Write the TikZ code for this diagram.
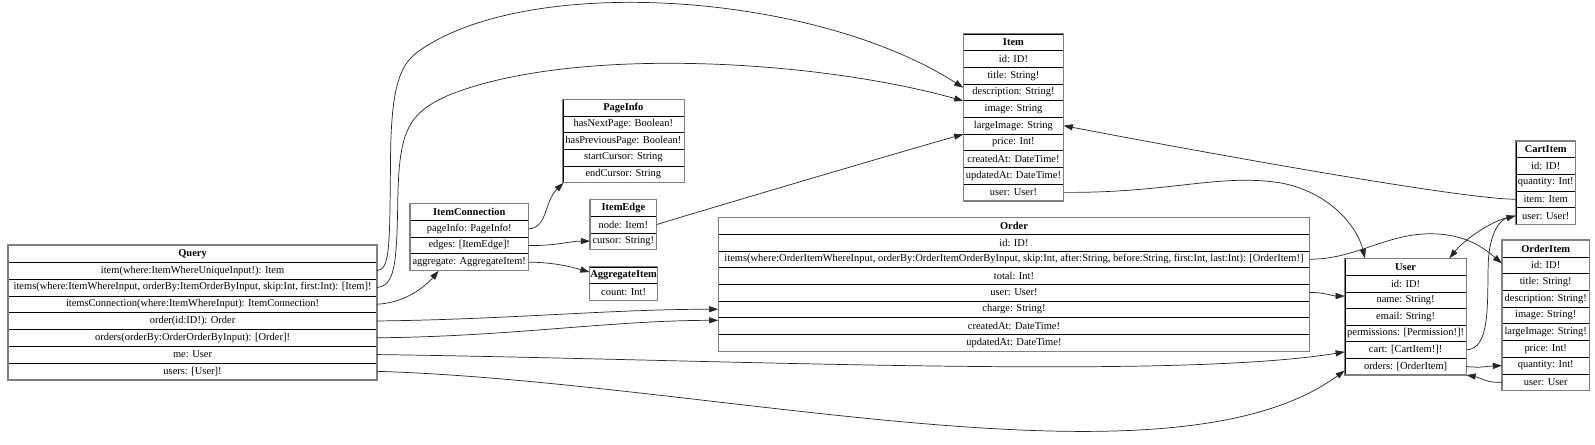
\documentclass[tikz,border=0pt]{standalone}
\usepackage{fontspec}
\setmainfont{Liberation Serif}
\usetikzlibrary{arrows.meta,fit,calc}
\newcommand\tfont{\fontsize{10.3}{11}\selectfont}
\tikzset{
  cell/.style={draw=black, line width=0.6pt, inner sep=0pt, anchor=north west, font=\tfont},
  frame/.style={draw=black!50, line width=1.3pt, inner sep=0pt},
  edge/.style={draw=black!85, line width=0.7pt, -{Triangle[length=9pt,width=6pt]}},
}
% #1 name, #2 x, #3 y, #4 width, #5 row height, #6 last row index, #7 header, #8 rows
\newcommand\mktable[8]{%
  \node[cell, minimum width=#4pt, minimum height=#5pt, font=\tfont\bfseries] (#1-0) at (#2,#3) {#7};
  \foreach \t [count=\i] in {#8} {
    \node[cell, minimum width=#4pt, minimum height=#5pt] (#1-\i) at (#2,#3+\i*#5) {\t};
  }
  \node[frame, fit=(#1-0)(#1-#6)] (#1) {};
}
\begin{document}
\begin{tikzpicture}[x=1pt,y=-1pt]
\useasboundingbox (0,0) rectangle (1568,436.6);
\mktable{q}{8}{241}{362}{16.5}{7}{Query}{{item(where:ItemWhereUniqueInput!): Item},{items(where:ItemWhereInput, orderBy:ItemOrderByInput, skip:Int, first:Int): [Item]!},{itemsConnection(where:ItemWhereInput): ItemConnection!},{order(id:ID!): Order},{orders(orderBy:OrderOrderByInput): [Order]!},{me: User},{users: [User]!}}
\mktable{ic}{403}{200}{116}{16.4}{3}{ItemConnection}{{pageInfo: PageInfo!},{edges: [ItemEdge]!},{aggregate: AggregateItem!}}
\mktable{pi}{553}{97.6}{119}{16.3}{4}{PageInfo}{{hasNextPage: Boolean!},{hasPreviousPage: Boolean!},{startCursor: String},{endCursor: String}}
\mktable{ie}{580}{196}{65}{16.3}{2}{ItemEdge}{{node: Item!},{cursor: String!}}
\mktable{ag}{579.5}{262}{66.5}{16.3}{1}{AggregateItem}{{count: Int!}}
\mktable{it}{947}{33}{98}{16.4}{9}{Item}{{id: ID!},{title: String!},{description: String!},{image: String},{largeImage: String},{price: Int!},{createdAt: DateTime!},{updatedAt: DateTime!},{user: User!}}
\mktable{or}{706}{213.5}{581}{16.4}{7}{Order}{{id: ID!},{items(where:OrderItemWhereInput, orderBy:OrderItemOrderByInput, skip:Int, after:String, before:String, first:Int, last:Int): [OrderItem!]},{total: Int!},{user: User!},{charge: String!},{createdAt: DateTime!},{updatedAt: DateTime!}}
\mktable{us}{1322}{254}{119}{16.3}{6}{User}{{id: ID!},{name: String!},{email: String!},{permissions: [Permission!]!},{cart: [CartItem!]!},{orders: [OrderItem]}}
\mktable{ci}{1490}{138.5}{58.5}{16.3}{4}{CartItem}{{id: ID!},{quantity: Int!},{item: Item},{user: User!}}
\mktable{oi}{1476.5}{236}{85.5}{16.4}{8}{OrderItem}{{id: ID!},{title: String!},{description: String!},{image: String!},{largeImage: String!},{price: Int!},{quantity: Int!},{user: User}}
% edges
\draw[edge] (q-1.east) .. controls (384,265) and (383,240) .. (384,150) .. controls (385,80) and (395,62) .. (412,50) .. controls (520,-26) and (800,-8) .. ([yshift=-4pt]it-3.north west);
\draw[edge] (q-2.east) .. controls (388,281) and (390,260) .. (391,200) .. controls (392,130) and (400,112) .. (440,94) .. controls (560,45) and (800,58) .. (it-3.south west);
\draw[edge] (q-3.east) .. controls (395,298) and (415,285) .. ([xshift=-30pt]ic-3.south);
\draw[edge] (q-4.east) .. controls (500,314) and (600,304) .. (or-5.west);
\draw[edge] (q-5.east) .. controls (500,331) and (600,315) .. ([yshift=-3pt]or-6.north west);
\draw[edge] (q-6.east) .. controls (700,353) and (1150,374) .. ([yshift=-2pt]us-5.west);
\draw[edge] (q-7.east) .. controls (700,375) and (1150,490) .. ([yshift=-4pt]us-6.west);
\draw[edge] (ic-1.east) .. controls (538,225) and (535,198) .. ([xshift=1pt]pi-4.south west);
\draw[edge] (ic-2.east) .. controls (545,242) and (560,237) .. (ie-2.west);
\draw[edge] (ic-3.east) .. controls (545,258) and (560,262) .. ([yshift=3pt]ag-0.west);
\draw[edge] (ie-1.east) .. controls (680,210) and (900,145) .. (it-5.south west);
\draw[edge] (it-9.east) .. controls (1150,190) and (1200,170) .. (1260,180) .. controls (1310,190) and (1335,225) .. ([xshift=-40pt]us-0.north);
\draw[edge] (ci-3.west) .. controls (1430,196) and (1110,136) .. (it-5.east);
\draw[edge] (ci-4.west) .. controls (1470,214) and (1440,235) .. ([xshift=43pt]us-0.north);
\draw[edge] (us-5.east) .. controls (1465,343) and (1462,300) .. (1463,260) .. controls (1464,228) and (1475,216) .. (ci-4.west);
\draw[edge] (or-2.east) .. controls (1330,255) and (1360,232) .. (1400,230) .. controls (1440,228) and (1460,245) .. ([yshift=2pt]oi-1.west);
\draw[edge] (or-4.east) .. controls (1300,287) and (1310,291) .. ([yshift=4pt]us-2.west);
\draw[edge] (us-6.east) .. controls (1455,362) and (1462,360) .. (oi-7.west);
\draw[edge] (oi-8.west) .. controls (1462,377) and (1455,371) .. (us-6.south east);
\end{tikzpicture}
\end{document}
